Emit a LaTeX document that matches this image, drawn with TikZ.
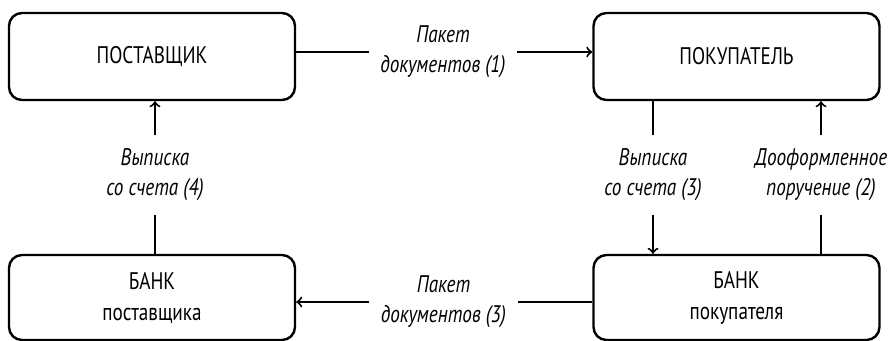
\documentclass[tikz,border=0pt]{standalone}
\usepackage{fontspec}
\setmainfont{PT Sans}[FakeStretch=0.8]
\usetikzlibrary{arrows}

\begin{document}
\begin{tikzpicture}[x=0.5pt,y=-0.5pt,>=to,
        party/.style={draw,line width=1.2pt,rounded corners=6.5pt,minimum width=143pt,minimum height=43.5pt,align=center,font=\fontsize{12}{15.5}\selectfont},
        note/.style={inner sep=0pt,align=center,font=\fontsize{12}{15}\selectfont\itshape},
        link/.style={line width=1pt}]
        \useasboundingbox (0,0) rectangle (896,341);
        % участники
        \node[party] (sup) at (152,56.5) {ПОСТАВЩИК};
        \node[party] (buy) at (736.5,56.5) {ПОКУПАТЕЛЬ};
        \node[party,minimum height=42.5pt] (bsup) at (152,297.5) {БАНК\\поставщика};
        \node[party,minimum height=42.5pt] (bbuy) at (736.5,297.5) {БАНК\\покупателя};
        % подписи
        \node[note,minimum width=74pt] (pk1) at (443,52) {Пакет\\документов (1)};
        \node[note,minimum width=74pt] (pk3) at (443.5,302) {Пакет\\документов (3)};
        \node[note,minimum height=40pt] (st4) at (155,175) {Выписка\\со счета (4)};
        \node[note,minimum height=40pt] (st3) at (653,175) {Выписка\\со счета (3)};
        \node[note,minimum height=40pt] (dp2) at (821,175) {Дооформленное\\поручение (2)};
        % потоки
        \draw[link] (sup.east |- pk1) -- (pk1);
        \draw[link,->] (pk1) -- (pk1 -| buy.west);
        \draw[link] (bbuy.west |- pk3) -- (pk3);
        \draw[link,->] (pk3) -- (pk3 -| bsup.east);
        \draw[link] (bsup.north -| st4) -- (st4);
        \draw[link,->] (st4) -- (st4 |- sup.south);
        \draw[link] (buy.south -| st3) -- (st3);
        \draw[link,->] (st3) -- (st3 |- bbuy.north);
        \draw[link] (bbuy.north -| dp2) -- (dp2);
        \draw[link,->] (dp2) -- (dp2 |- buy.south);
\end{tikzpicture}
\end{document}
